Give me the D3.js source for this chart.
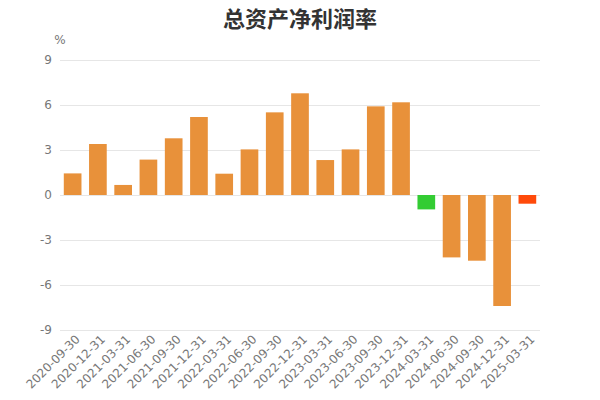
<!DOCTYPE html>
<html><head><meta charset="utf-8">
<script src="https://cdn.jsdelivr.net/npm/d3@7"></script>
<style>body{margin:0;background:#fff;}svg{display:block;}</style>
</head><body>
<svg id="chart" width="600" height="400"></svg>
<script>
const categories = ["2020-09-30","2020-12-31","2021-03-31","2021-06-30","2021-09-30","2021-12-31","2022-03-31","2022-06-30","2022-09-30","2022-12-31","2023-03-31","2023-06-30","2023-09-30","2023-12-31","2024-03-31","2024-06-30","2024-09-30","2024-12-31","2025-03-31"];
const values = [1.44, 3.4, 0.67, 2.36, 3.78, 5.2, 1.42, 3.04, 5.51, 6.78, 2.33, 3.04, 5.91, 6.18, -0.96, -4.16, -4.38, -7.4, -0.58];
const barColors = ["#E8913A","#E8913A","#E8913A","#E8913A","#E8913A","#E8913A","#E8913A","#E8913A","#E8913A","#E8913A","#E8913A","#E8913A","#E8913A","#E8913A","#33CC33","#E8913A","#E8913A","#E8913A","#FF4A0A"];
const yTicks = [-9, -6, -3, 0, 3, 6, 9];
const title = "总资产净利润率";
const unit = "%";

(function () {
const svg = d3.select("#chart");
const mLeft = 60, mRight = 540, mTop = 60, mBottom = 330;
const x = d3.scaleBand().domain(categories).range([mLeft, mRight]).paddingInner(0.3).paddingOuter(0.15);
const y = d3.scaleLinear().domain([-9, 9]).range([mBottom, mTop]);
const font = "'Noto Sans CJK SC', 'Noto Sans', sans-serif";
const tickFont = "'DejaVu Sans', sans-serif";
const tickColor = "#777";

svg.append("text").attr("x", 300).attr("y", 27).attr("text-anchor", "middle")
  .attr("font-family", font).attr("font-size", 22).attr("font-weight", "bold").attr("fill", "#333")
  .text(title);
svg.append("text").attr("x", 60).attr("y", 44).attr("text-anchor", "middle")
  .attr("font-family", tickFont).attr("font-size", 12).attr("fill", tickColor).text(unit);

const yAxis = svg.append("g").attr("transform", `translate(${mLeft},0)`)
  .call(d3.axisLeft(y).tickValues(yTicks).tickFormat(d => String(d)).tickSize(-(mRight - mLeft)).tickPadding(8));
yAxis.select(".domain").remove();
yAxis.selectAll(".tick line").attr("stroke", "#e6e6e6");
yAxis.selectAll(".tick text").attr("fill", tickColor).attr("font-size", 12).attr("font-family", tickFont);

svg.append("g").selectAll("rect").data(values).join("rect")
  .attr("x", (d, i) => x(categories[i]))
  .attr("width", x.bandwidth())
  .attr("y", d => y(Math.max(0, d)))
  .attr("height", d => Math.abs(y(d) - y(0)))
  .attr("fill", (d, i) => barColors[i]);

const xAxis = svg.append("g").attr("transform", `translate(0,${mBottom})`)
  .call(d3.axisBottom(x).tickSize(0).tickPadding(0));
xAxis.select(".domain").remove();
xAxis.selectAll(".tick text")
  .attr("fill", tickColor).attr("font-size", 12).attr("font-family", tickFont)
  .attr("text-anchor", "end")
  .attr("y", 0).attr("dy", "0.35em")
  .attr("transform", "translate(5,7) rotate(-45)");
})();
</script>
</body></html>
